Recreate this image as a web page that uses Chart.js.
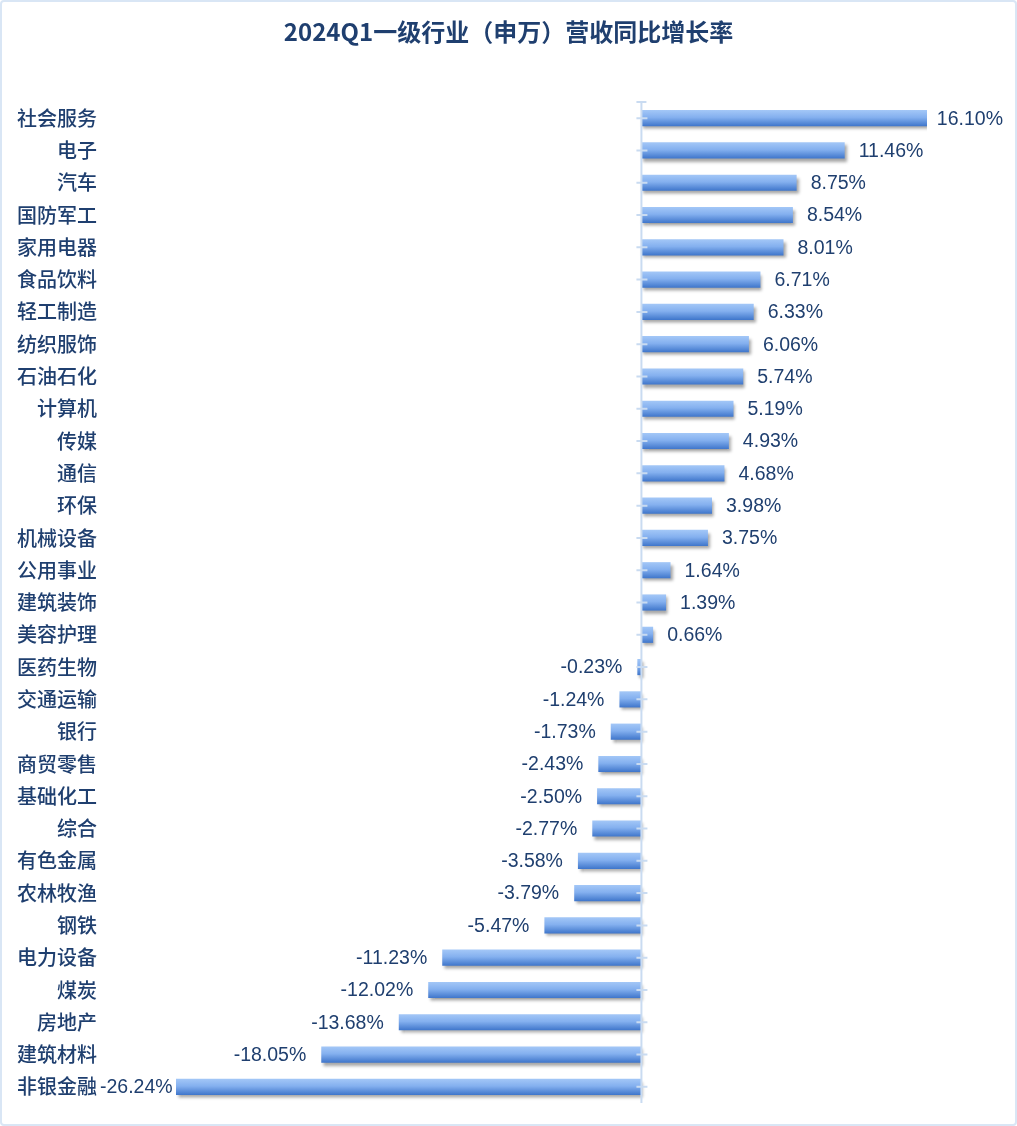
<!DOCTYPE html>
<html>
<head>
<meta charset="utf-8">
<script src="https://cdn.jsdelivr.net/npm/chart.js@4.4.1/dist/chart.umd.min.js"></script>
<style>
html,body{margin:0;padding:0;background:#fff;}
#wrap{position:absolute;left:0;top:0;width:1017px;height:1126px;}
#frame{position:absolute;left:0;top:0;width:1017px;height:1126px;box-sizing:border-box;border:2px solid #d9e6f5;border-radius:4px;pointer-events:none;}
</style>
</head>
<body>
<div id="wrap"><canvas id="c" width="1017" height="1126"></canvas></div>
<div id="frame"></div>
<script>
const titleText = '2024Q1一级行业（申万）营收同比增长率';
const categories = ['社会服务','电子','汽车','国防军工','家用电器','食品饮料','轻工制造','纺织服饰','石油石化','计算机','传媒','通信','环保','机械设备','公用事业','建筑装饰','美容护理','医药生物','交通运输','银行','商贸零售','基础化工','综合','有色金属','农林牧渔','钢铁','电力设备','煤炭','房地产','建筑材料','非银金融'];
const growthValues = [16.10,11.46,8.75,8.54,8.01,6.71,6.33,6.06,5.74,5.19,4.93,4.68,3.98,3.75,1.64,1.39,0.66,-0.23,-1.24,-1.73,-2.43,-2.50,-2.77,-3.58,-3.79,-5.47,-11.23,-12.02,-13.68,-18.05,-26.24];
const valueLabels = growthValues.map(v => v.toFixed(2) + '%');

const textColor = '#1f3f6f';
const labelFont = '19.5px "Liberation Sans", Arial, sans-serif';

function barGradient(ctx) {
  const chart = ctx.chart;
  const y = chart.scales && chart.scales.y;
  if (!chart.chartArea || !y || ctx.dataIndex === undefined) return '#7aa7ea';
  const c = y.getPixelForValue(ctx.dataIndex);
  const g = chart.ctx.createLinearGradient(0, c - 8, 0, c + 8);
  g.addColorStop(0, '#a3c7f7');
  g.addColorStop(0.45, '#84b0ef');
  g.addColorStop(1, '#3f76cb');
  return g;
}

const titlePlugin = {
  id: 'customTitle',
  afterDraw(chart) {
    const ctx = chart.ctx;
    ctx.save();
    ctx.font = 'bold 24px "Noto Sans CJK SC", "Noto Sans", sans-serif';
    ctx.fillStyle = textColor;
    ctx.textAlign = 'center';
    ctx.textBaseline = 'middle';
    ctx.fillText(titleText, 508.5, 32);
    ctx.restore();
  }
};

const shadowPlugin = {
  id: 'shadow',
  beforeDatasetsDraw(chart) {
    const ctx = chart.ctx;
    ctx.save();
    ctx.shadowColor = 'rgba(0,0,0,0.35)';
    ctx.shadowOffsetX = 2;
    ctx.shadowOffsetY = 3;
    ctx.shadowBlur = 3;
  },
  afterDatasetsDraw(chart) {
    chart.ctx.restore();
  }
};

const axisPlugin = {
  id: 'zeroAxis',
  afterDatasetsDraw(chart) {
    const ctx = chart.ctx;
    const x = chart.scales.x.getPixelForValue(0);
    const ys = chart.scales.y;
    const a = chart.chartArea;
    ctx.save();
    ctx.strokeStyle = '#c9dbf1';
    ctx.lineWidth = 2;
    ctx.beginPath();
    ctx.moveTo(x, a.top);
    ctx.lineTo(x, a.bottom);
    ctx.moveTo(x - 5, a.top);
    ctx.lineTo(x + 5, a.top);
    for (let i = 0; i < categories.length; i++) {
      const y = ys.getPixelForValue(i);
      ctx.moveTo(x - 5, y);
      ctx.lineTo(x + 6, y);
    }
    ctx.stroke();
    ctx.restore();
  }
};

const labelPlugin = {
  id: 'valueLabels',
  afterDatasetsDraw(chart) {
    const ctx = chart.ctx;
    const meta = chart.getDatasetMeta(0);
    ctx.save();
    ctx.font = labelFont;
    ctx.fillStyle = textColor;
    ctx.textBaseline = 'middle';
    meta.data.forEach((bar, i) => {
      const v = growthValues[i];
      const txt = valueLabels[i];
      const w = ctx.measureText(txt).width;
      let left;
      if (v >= 0) {
        left = bar.x + 14;
        if (left + w > 1003) left = 1003 - w;
      } else {
        left = bar.x - 15 - w;
        if (left < 100) left = 100;
      }
      ctx.textAlign = 'left';
      ctx.fillText(txt, left, bar.y + 1);
    });
    ctx.restore();
  }
};

new Chart(document.getElementById('c'), {
  type: 'bar',
  data: {
    labels: categories,
    datasets: [{
      data: growthValues,
      backgroundColor: barGradient,
      borderWidth: 0,
      barPercentage: 0.5,
      categoryPercentage: 1.0
    }]
  },
  options: {
    indexAxis: 'y',
    responsive: false,
    animation: false,
    devicePixelRatio: 1,
    layout: { padding: { left: 0, right: 90, top: 102, bottom: 23 } },
    plugins: {
      legend: { display: false },
      tooltip: { enabled: false },
      title: { display: false }
    },
    scales: {
      x: {
        display: false,
        min: -26.24,
        max: 16.10
      },
      y: {
        grid: { display: false, drawTicks: false },
        border: { display: false },
        ticks: {
          color: textColor,
          font: { family: '"Noto Sans CJK SC", sans-serif', size: 20, weight: 500 },
          padding: 79,
          autoSkip: false
        },
        afterFit(scale) {
          scale.width = 176;
          scale.paddingTop = 0;
          scale.paddingBottom = 0;
        }
      }
    }
  },
  plugins: [titlePlugin, shadowPlugin, axisPlugin, labelPlugin]
});
</script>
</body>
</html>
